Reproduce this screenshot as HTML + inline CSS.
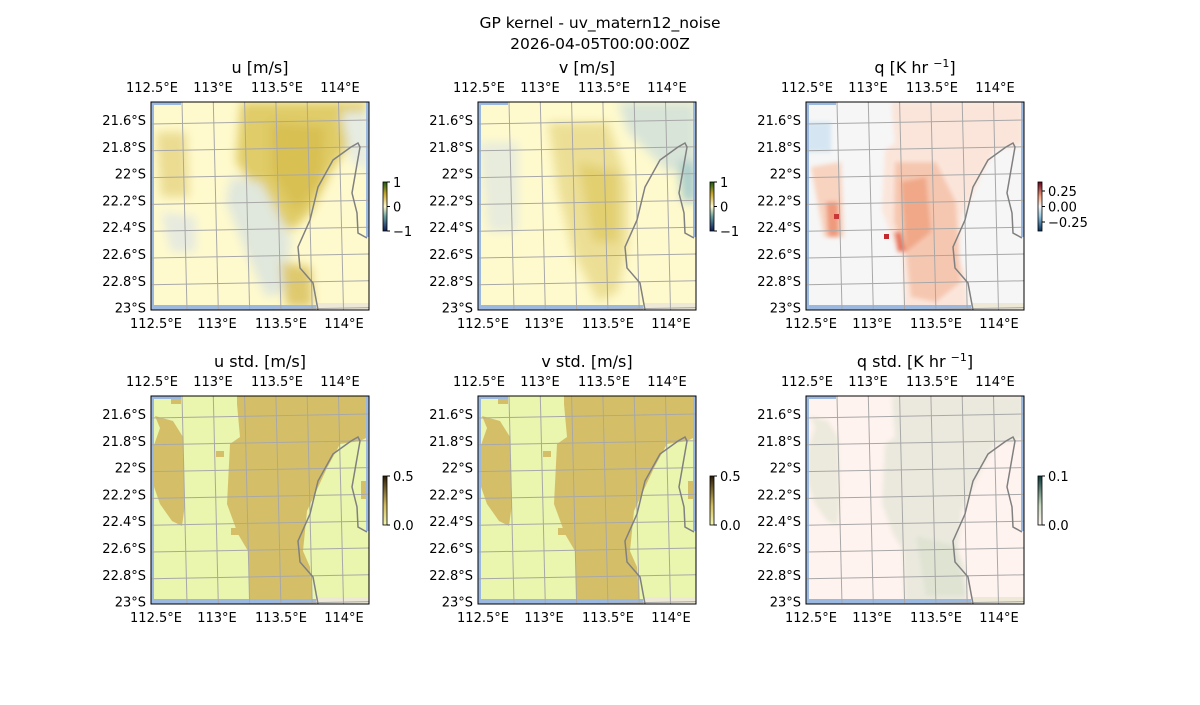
<!DOCTYPE html>
<html><head><meta charset="utf-8"><style>
body{margin:0;background:#fff;}
svg text{font-family:"DejaVu Sans","Liberation Sans",sans-serif;font-size:13px;fill:#000;}
</style></head><body>
<svg id="s" width="1200" height="700" xmlns="http://www.w3.org/2000/svg">
<defs>
<filter id="b" x="-20%" y="-20%" width="140%" height="140%"><feGaussianBlur stdDeviation="5"/></filter>
<filter id="b2" x="-20%" y="-20%" width="140%" height="140%"><feGaussianBlur stdDeviation="2"/></filter>
<linearGradient id="cb1" x1="0" y1="1" x2="0" y2="0"><stop offset="0" stop-color="#0a1a5a"/><stop offset="0.3" stop-color="#6aa0a0"/><stop offset="0.5" stop-color="#fffacd"/><stop offset="0.75" stop-color="#c9a830"/><stop offset="1" stop-color="#1a5a10"/></linearGradient>
<linearGradient id="cb2" x1="0" y1="1" x2="0" y2="0"><stop offset="0" stop-color="#053061"/><stop offset="0.3" stop-color="#92c5de"/><stop offset="0.5" stop-color="#f7f7f7"/><stop offset="0.7" stop-color="#f4a582"/><stop offset="1" stop-color="#67001f"/></linearGradient>
<linearGradient id="cb3" x1="0" y1="1" x2="0" y2="0"><stop offset="0" stop-color="#f2f6b0"/><stop offset="0.4" stop-color="#d2bc60"/><stop offset="1" stop-color="#2a1a08"/></linearGradient>
<linearGradient id="cb4" x1="0" y1="1" x2="0" y2="0"><stop offset="0" stop-color="#fff5f0"/><stop offset="0.4" stop-color="#c8d8c0"/><stop offset="1" stop-color="#0a3a3a"/></linearGradient>
</defs>
<text x="600" y="28" text-anchor="middle" style="font-size:15.5px">GP kernel - uv_matern12_noise</text>
<text x="600" y="49" text-anchor="middle" style="font-size:15.5px">2026-04-05T00:00:00Z</text>
<g id="g"></g>
</svg>
<script>
var S='';
var W=218,H=208;
var band="M86,8 L89,41 L79,48 L76,108 L87,138 L97,155 L99,211 L162,211 L159,171 L152,155 L156,115 L176,72 L189,48 L209,45 L217,41 L217,0 L86,0 Z";
var lblob="M4,20 L22,25 L32,41 L34,108 L31,130 L21,125 L9,108 L2,88 L2,52 L9,32 Z";
var coast="M167,208 L162,181 L149,166 L147,145 L159,118 L167,85 L182,58 L200,45 L207,41 L209,45 L201,91 L206,111 L207,131 L216,136";
function panel(x0,y0,title,bg,content,cb){
 S+='<text x="'+(x0+109)+'" y="'+(y0-29)+'" text-anchor="middle" style="font-size:16px">'+title+'</text>';
 S+='<g transform="translate('+x0+','+y0+')"><clipPath id="c'+x0+y0+'"><rect width="'+W+'" height="'+H+'"/></clipPath><g clip-path="url(#c'+x0+y0+')">';
 S+='<rect width="'+W+'" height="'+H+'" fill="'+bg+'"/>'+content;
 S+='<rect x="165" y="201" width="53" height="7" fill="#ede9d6"/>';
 S+='<rect x="0" y="0" width="3" height="208" fill="#9bb8e0"/><rect x="0" y="203" width="165" height="5" fill="#9bb8e0"/><rect x="0" y="0" width="30" height="3" fill="#9bb8e0"/><rect x="215" y="0" width="3" height="135" fill="#9bb8e0"/>';
 for(var i=0;i<7;i++){var gx=31+i*31.3;S+='<line x1="'+gx+'" y1="0" x2="'+(gx+5)+'" y2="208" stroke="#a8a8a8" stroke-width="1"/>';}
 for(var j=0;j<8;j++){var gy=20+j*26.8;S+='<line x1="0" y1="'+(gy+2)+'" x2="218" y2="'+(gy-2)+'" stroke="#a8a8a8" stroke-width="1"/>';}
 S+='<path d="'+coast+'" fill="none" stroke="#808080" stroke-width="1.5"/>';
 S+='</g><rect width="'+W+'" height="'+H+'" fill="none" stroke="#000" stroke-width="1"/>';
 var lons=[[1,'112.5°E'],[62,'113°E'],[126,'113.5°E'],[189,'114°E']];
 lons.forEach(function(l){S+='<text x="'+l[0]+'" y="-10" text-anchor="middle">'+l[1]+'</text><text x="'+(l[0]+4)+'" y="226" text-anchor="middle">'+l[1]+'</text>';});
 var lats=['21.6°S','21.8°S','22°S','22.2°S','22.4°S','22.6°S','22.8°S','23°S'];
 lats.forEach(function(t,k){S+='<text x="-5" y="'+(23+k*26.8)+'" text-anchor="end">'+t+'</text>';});
 S+='</g>';
 var cx=x0+232,cy=y0+80;
 S+='<rect x="'+cx+'" y="'+cy+'" width="4" height="49" fill="url(#'+cb.g+')" stroke="#000" stroke-width="0.8"/>';
 cb.t.forEach(function(t){var yy=cy+t[0];S+='<line x1="'+(cx+4)+'" y1="'+yy+'" x2="'+(cx+7)+'" y2="'+yy+'" stroke="#000"/><text x="'+(cx+10)+'" y="'+(yy+5)+'">'+t[1]+'</text>';});
}
var uC='<g filter="url(#b)"><path d="M90,0 L218,0 L200,40 L180,70 L160,110 L140,130 L110,95 L85,60 Z" fill="#e0cc68"/><path d="M120,20 L175,25 L170,80 L145,110 L120,70 Z" fill="#d8c052"/><path d="M5,30 L35,30 L38,95 L10,95 Z" fill="#ebdc92"/><path d="M190,10 L218,10 L218,70 L200,60 Z" fill="#e6ece2"/><path d="M80,75 L110,80 L140,135 L135,190 L115,195 L95,150 L75,100 Z" fill="#e0e7dc"/><path d="M10,110 L45,115 L45,150 L20,150 Z" fill="#e6eadf"/><path d="M130,160 L160,165 L162,205 L135,205 Z" fill="#dfc96e"/></g>';
var vC='<g filter="url(#b)"><path d="M70,20 L130,20 L150,80 L150,140 L140,190 L120,200 L95,150 L80,90 Z" fill="#ecdf95"/><path d="M100,60 L140,70 L140,140 L115,140 Z" fill="#e2cf70"/><path d="M0,40 L40,40 L40,130 L10,130 Z" fill="#e8ecdc"/><path d="M140,0 L218,0 L218,60 L190,70 L150,30 Z" fill="#d8e4d8"/><path d="M200,60 L218,60 L218,100 L205,100 Z" fill="#a9cccc"/></g>';
var qC='<g filter="url(#b2)"><path d="'+band+'" fill="#fbe5da"/><path d="M89,60 L130,60 L150,100 L155,180 L130,200 L105,195 L100,150 L88,120 Z" fill="#f6c7b0"/><path d="M95,80 L120,75 L125,130 L100,150 Z" fill="#f0a888" /><path d="M88,130 L95,130 L100,150 L92,150 Z" fill="#e8735a"/><path d="M5,65 L35,60 L38,135 L18,135 Z" fill="#f8d3c0"/><path d="M20,100 L32,100 L33,135 L22,135 Z" fill="#ef9a7c"/><path d="M0,20 L25,20 L25,50 L0,50 Z" fill="#d5e6f2"/></g><rect x="28" y="112" width="5" height="5" fill="#c83838"/><rect x="78" y="132" width="5" height="5" fill="#c32a2f"/>';
var stdC=function(c){return '<path d="'+band+'" fill="'+c+'"/><path d="'+lblob+'" fill="'+c+'"/><rect x="65" y="55" width="8" height="6" fill="'+c+'"/><rect x="80" y="132" width="9" height="7" fill="'+c+'"/><rect x="20" y="2" width="10" height="6" fill="'+c+'"/><rect x="210" y="85" width="8" height="18" fill="'+c+'"/>';};
var qsC='<g filter="url(#b2)"><path d="'+band+'" fill="#e7e8da" opacity="0.85"/><path d="'+lblob+'" fill="#eceadc"/><path d="M110,140 L150,150 L160,200 L120,200 Z" fill="#dfe3d2"/></g>';
panel(151,102,'u [m/s]','#fffacd',uC,{g:'cb1',t:[[0,'1'],[24.5,'0'],[49,'−1']]});
panel(478,102,'v [m/s]','#fffacd',vC,{g:'cb1',t:[[0,'1'],[24.5,'0'],[49,'−1']]});
panel(806,102,'q [K hr <tspan dy="-6" style="font-size:11px">−1</tspan><tspan dy="6">]</tspan>','#f6f6f6',qC,{g:'cb2',t:[[9,'0.25'],[24.5,'0.00'],[40,'−0.25']]});
panel(151,396,'u std. [m/s]','#eaf5ad',stdC('#d4bf68'),{g:'cb3',t:[[0,'0.5'],[49,'0.0']]});
panel(478,396,'v std. [m/s]','#eaf5ad',stdC('#d4bf68'),{g:'cb3',t:[[0,'0.5'],[49,'0.0']]});
panel(806,396,'q std. [K hr <tspan dy="-6" style="font-size:11px">−1</tspan><tspan dy="6">]</tspan>','#fff3ef',qsC,{g:'cb4',t:[[0,'0.1'],[49,'0.0']]});
document.getElementById('g').innerHTML=S;
</script>
</body></html>
